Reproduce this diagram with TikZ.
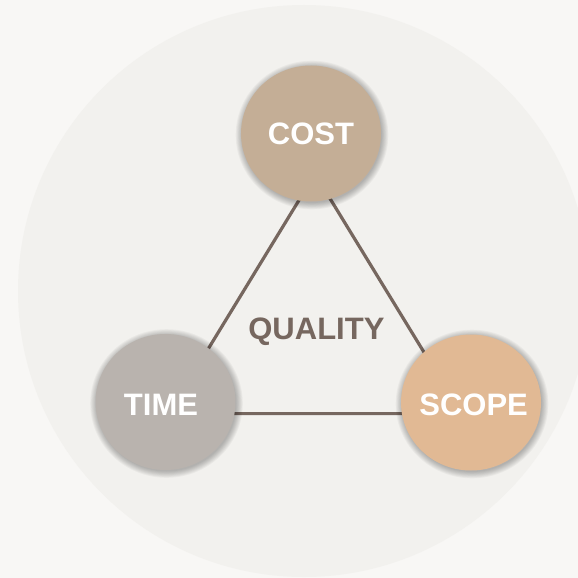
\documentclass[tikz,border=0pt]{standalone}
\usepackage{fontspec}
\setmainfont{Liberation Sans}
\usetikzlibrary{shapes.geometric}
\definecolor{pagebg}{HTML}{F8F7F5}
\definecolor{discbg}{HTML}{F2F1EE}
\definecolor{costc}{HTML}{C4AE96}
\definecolor{timec}{HTML}{B9B3AE}
\definecolor{scopec}{HTML}{E1B994}
\definecolor{linec}{HTML}{76675F}
\tikzset{
  ball/.style={ellipse, minimum width=140pt, minimum height=136pt, inner sep=0pt},
  label/.style={text=white, font=\bfseries\fontsize{31}{31}\selectfont},
  edge/.style={draw=linec, line width=3.2pt},
}
\newcommand{\softshadow}[1]{%
  \foreach \k in {0,1,...,7}{%
    \fill[black, opacity=0.035] ([shift={(1,1.5)}]#1) ellipse ({70+\k*0.9} and {68+\k*0.9});
  }%
}
\begin{document}
\begin{tikzpicture}[x=1pt,y=-1pt]
\fill[pagebg] (0,0) rectangle (578,578);
\useasboundingbox (0,0) rectangle (578,578);
\begin{scope}
\clip (0,0) rectangle (578,578);
\fill[discbg] (304,291) circle (286);
\end{scope}
\coordinate (ta) at (315,174);
\coordinate (tl) at (168.7,413.6);
\coordinate (tr) at (461.5,413.6);
\draw[edge] (ta) -- (tl) -- (tr) -- cycle;
\coordinate (pcost) at (311,133.5);
\coordinate (ptime) at (165.5,402);
\coordinate (pscope) at (471,402.5);
\softshadow{pcost}
\softshadow{ptime}
\softshadow{pscope}
\node[ball, fill=costc] (cost) at (pcost) {};
\node[ball, fill=timec] (time) at (ptime) {};
\node[ball, fill=scopec] (scope) at (pscope) {};
\node[label] (costt) at (311,134) {COST};
\node[label] (timet) at (161,404.7) {TIME};
\node[label] (scopet) at (473.6,404.7) {SCOPE};
\node[label, text=linec] (quality) at (316.4,331.7) {QUALITY};
\end{tikzpicture}
\end{document}
